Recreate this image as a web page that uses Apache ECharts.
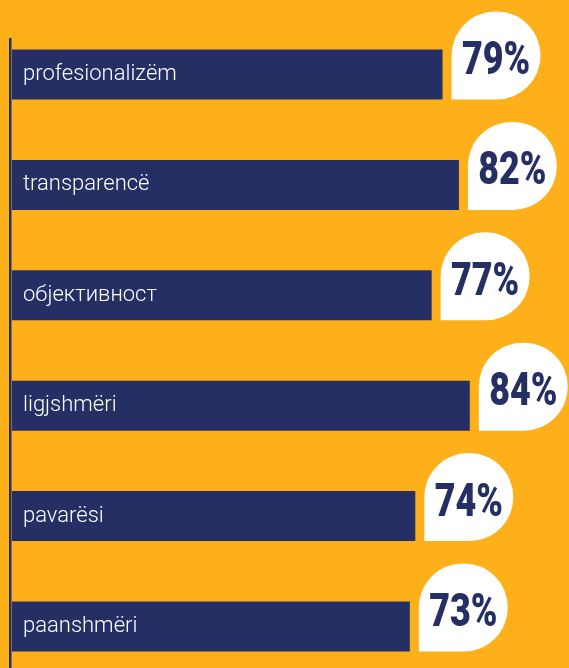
<!DOCTYPE html>
<html>
<head>
<meta charset="utf-8">
<script src="https://cdn.jsdelivr.net/npm/echarts@6/dist/echarts.min.js"></script>
<style>
  html, body { margin: 0; padding: 0; background: #fdb01a; }
  #chart { width: 569px; height: 668px; }
</style>
</head>
<body>
<div id="chart"></div>
<script>
const categories = ['profesionalizëm', 'transparencë', 'објективност', 'ligjshmëri', 'pavarësi', 'paanshmëri']
const values = [79, 82, 77, 84, 74, 73]

const navy = '#252f64'
const barHeight = 50
const chart = echarts.init(document.getElementById('chart'))

// white "pin" bubble with the percentage, sitting right after each bar
const renderBubble = (params, api) => {
  const end = api.coord([api.value(0), api.value(1)])
  const w = 89
  const h = 88
  const left = end[0] + 9
  const bottom = end[1] + barHeight / 2
  return {
    type: 'group',
    children: [
      {
        type: 'rect',
        shape: { x: left, y: bottom - h, width: w, height: h, r: [44, 44, 44, 0] },
        style: { fill: '#ffffff' }
      },
      {
        type: 'text',
        x: left + w / 2,
        y: bottom - h / 2 + 7,
        scaleX: 0.78,
        style: {
          text: api.value(0) + '%',
          fill: navy,
          font: '900 46px Roboto',
          align: 'center',
          verticalAlign: 'middle'
        }
      }
    ]
  }
}

const option = {
  backgroundColor: '#fdb01a',
  animation: false,
  grid: { left: 12, width: 545, top: 19.3, height: 662.4, outerBoundsMode: 'none' },
  graphic: [
    {
      type: 'rect',
      shape: { x: 9, y: 38, width: 2.5, height: 640 },
      style: { fill: navy },
      z: 10
    }
  ],
  xAxis: {
    type: 'value',
    min: 0,
    max: 100,
    show: false
  },
  yAxis: {
    type: 'category',
    inverse: true,
    data: categories,
    axisLine: { show: false },
    axisTick: { show: false },
    splitLine: { show: false },
    axisLabel: {
      inside: true,
      margin: 11,
      color: '#ffffff',
      fontFamily: 'Roboto',
      fontWeight: 300,
      fontSize: 22,
      padding: [4, 0, 0, 0]
    },
    z: 5
  },
  series: [
    {
      type: 'bar',
      data: values,
      barWidth: barHeight,
      itemStyle: { color: navy }
    },
    {
      type: 'custom',
      renderItem: renderBubble,
      encode: { x: 0, y: 1 },
      data: values.map((v, i) => [v, i]),
      z: 3
    }
  ]
}

chart.setOption(option)
</script>
</body>
</html>
